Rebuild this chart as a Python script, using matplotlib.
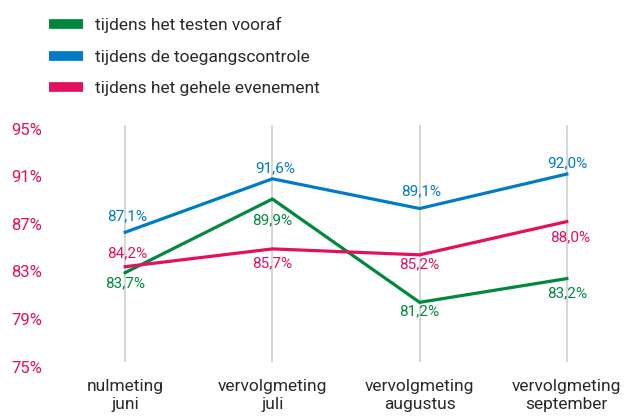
import matplotlib
matplotlib.use("Agg")
import matplotlib.pyplot as plt
from matplotlib import font_manager
from matplotlib.lines import Line2D
from matplotlib.transforms import ScaledTranslation

# pick a narrow-ish sans that is installed
names = {f.name for f in font_manager.fontManager.ttflist}
for fam in ["Roboto", "Liberation Sans Narrow", "Lato", "DejaVu Sans"]:
    if fam in names:
        plt.rcParams["font.family"] = [fam, "DejaVu Sans"]
        break

# data
metingen = ["nulmeting\njuni", "vervolgmeting\njuli", "vervolgmeting\naugustus", "vervolgmeting\nseptember"]
series = ["tijdens het testen vooraf", "tijdens de toegangscontrole", "tijdens het gehele evenement"]
testen = [83.7, 89.9, 81.2, 83.2]
toegang = [87.1, 91.6, 89.1, 92.0]
evenement = [84.2, 85.7, 85.2, 88.0]
yticks = [75, 79, 83, 87, 91, 95]

colors = ["#00893e", "#007bc4", "#e3105f"]
tick_color = "#e3105f"
text_color = "#2a2a2a"

# label offsets in pixels (dx, dy), per series per point
label_offsets = [
    [(0, -11), (0, -21), (0, -9), (0, -15)],
    [(2, 16), (3, 11), (2, 17), (1, 11)],
    [(2, 13), (0, -14), (0, -9), (3, -16)],
]

fig = plt.figure(figsize=(6.25, 4.16), dpi=100)
ax = fig.add_axes([81 / 625, 40 / 416, 530 / 625, 251 / 416])
x = list(range(len(metingen)))

ax.vlines(x, 76.18, 96.13, color="#cccccc", linewidth=1.1, zorder=1)

for vals, col, offs in zip([testen, toegang, evenement], colors, label_offsets):
    ax.plot(x, vals, color=col, linewidth=2.3, zorder=3)
    for xi, v, (dx, dy) in zip(x, vals, offs):
        ax.annotate(f"{v:.1f}%".replace(".", ","), (xi, v), xytext=(dx, dy),
                    textcoords="offset pixels", ha="center", va="center",
                    color=col, fontsize=11, zorder=4)

ax.set_xlim(-0.3, 3.3)
ax.set_ylim(75, 96.13)
ax.set_yticks([])
ax.set_xticks(x, metingen, fontsize=12.5, color=text_color, linespacing=1.25)
ax.tick_params(axis="x", length=0, pad=2)
for s in ax.spines.values():
    s.set_visible(False)

# y labels drawn slightly above their true level, like the original
ylab_tr = ax.get_yaxis_transform() + ScaledTranslation(-39 / 100, 8 / 100, fig.dpi_scale_trans)
for t in yticks:
    ax.text(0, t, f"{t}%", transform=ylab_tr, ha="right", va="center",
            color=tick_color, fontsize=12, clip_on=False)

handles = [Line2D([0], [0], color=c, linewidth=7, solid_capstyle="butt") for c in colors]
fig.legend(handles, series, loc="upper left", bbox_to_anchor=(49 / 625, 1 - 17 / 416),
           frameon=False, fontsize=12.5, handlelength=1.95, handletextpad=0.7,
           labelspacing=0.95, borderpad=0, borderaxespad=0, labelcolor=text_color)

fig.savefig("out.png", dpi=100)
